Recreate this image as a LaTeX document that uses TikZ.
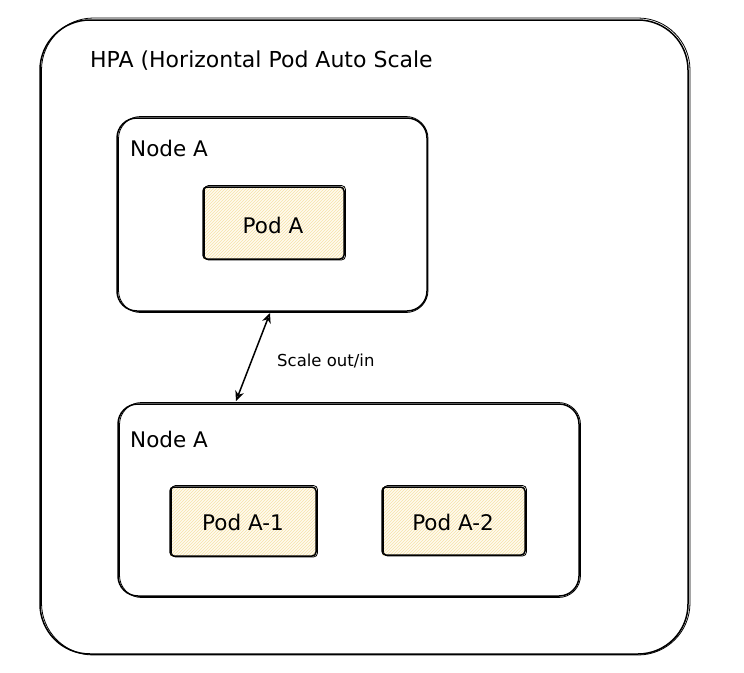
\documentclass[tikz,border=0pt]{standalone}
\usepackage{fontspec}
\setmainfont{DejaVu Sans}
\usetikzlibrary{arrows.meta,patterns}
\definecolor{podfill}{HTML}{FFFBEF}
\definecolor{hatch}{HTML}{F6E2A8}
\tikzset{
  sketch/.style={draw=black, line width=1.5pt},
  sketch2/.style={draw=black, line width=0.8pt},
  pod/.style={fill=podfill},
  podhatch/.style={pattern=north east lines, pattern color=hatch},
  lbl/.style={font=\fontsize{21.5}{25}\selectfont, anchor=west, inner sep=0pt},
  podlbl/.style={font=\fontsize{21.5}{25}\selectfont, inner sep=0pt},
  small/.style={font=\fontsize{16.5}{19}\selectfont, anchor=west, inner sep=0pt},
}
\begin{document}
\begin{tikzpicture}[x=1pt,y=-1pt]
\useasboundingbox (0,0) rectangle (744,672);
% outer HPA
\draw[sketch, rounded corners=50pt] (40,20) rectangle (688,654);
\draw[sketch2, rounded corners=52pt] (41.5,18) rectangle (690,655);
\node[lbl, font=\fontsize{22}{26}\selectfont] (title) at (90,61) {HPA (Horizontal Pod Auto Scale};
% Node A top
\draw[sketch, rounded corners=20pt] (117,118) rectangle (427,311);
\draw[sketch2, rounded corners=22pt] (118.5,116.5) rectangle (428,312.5);
\node[draw=none, minimum width=310pt, minimum height=193pt, inner sep=0pt] (nodeA) at (272,214.5) {};
\node[lbl] (nodeAlbl) at (130,148) {Node A};
% Pod A
\fill[pod] (203,187) rectangle (344,259);
\fill[podhatch] (203,187) rectangle (344,259);
\draw[sketch, rounded corners=4pt] (203,187) rectangle (344,259);
\draw[sketch2, rounded corners=4pt] (204.5,185.5) rectangle (345.5,260);
\node[podlbl] (podA) at (273,225) {Pod A};
% Node A bottom
\draw[sketch, rounded corners=20pt] (118,404) rectangle (579,596);
\draw[sketch2, rounded corners=22pt] (119.5,402.5) rectangle (580.5,597.5);
\node[draw=none, minimum width=461pt, minimum height=192pt, inner sep=0pt] (nodeB) at (348.5,500) {};
\node[lbl] (nodeBlbl) at (130,439) {Node A};
% Pod A-1
\fill[pod] (170,487) rectangle (316,556);
\fill[podhatch] (170,487) rectangle (316,556);
\draw[sketch, rounded corners=4pt] (170,487) rectangle (316,556);
\draw[sketch2, rounded corners=4pt] (171.5,485.5) rectangle (317.5,557);
\node[podlbl] (podA1) at (243,522) {Pod A-1};
% Pod A-2
\fill[pod] (382,487) rectangle (525,555);
\fill[podhatch] (382,487) rectangle (525,555);
\draw[sketch, rounded corners=4pt] (382,487) rectangle (525,555);
\draw[sketch2, rounded corners=4pt] (383.5,485.5) rectangle (526.5,556);
\node[podlbl] (podA2) at (453,522) {Pod A-2};
% arrow
\coordinate (ta) at (270,313);
\coordinate (tb) at (236,401);
\draw[line width=1.5pt, {Stealth[open,length=10pt,width=9pt]}-{Stealth[open,length=10pt,width=9pt]}] (ta) -- (tb);
\node[small] (scl) at (277,361) {Scale out/in};
\end{tikzpicture}
\end{document}
